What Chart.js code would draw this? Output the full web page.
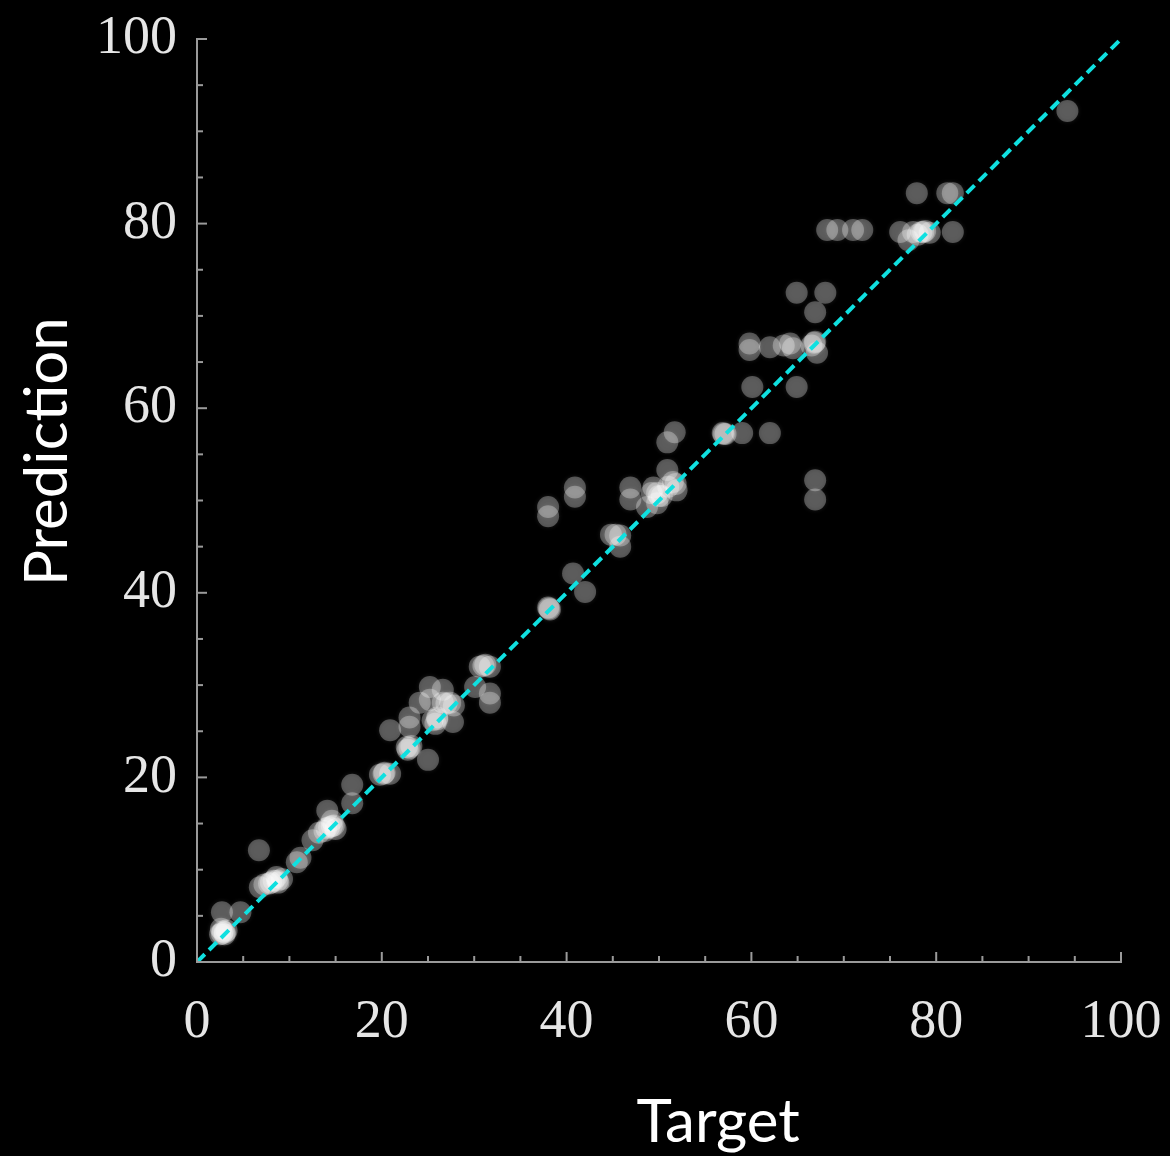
<!DOCTYPE html>
<html>
<head>
<meta charset="utf-8">
<script src="https://cdn.jsdelivr.net/npm/chart.js@4/dist/chart.umd.min.js"></script>
<style>
  html, body { margin: 0; padding: 0; background: #000; }
  #wrap { width: 1170px; height: 1156px; position: relative; }
</style>
</head>
<body>
<div id="wrap"><canvas id="c" width="1170" height="1156"></canvas></div>
<script>
// ---- data ----
const targetValues = [
  2.5, 2.8, 3.0, 2.6, 3.2, 3.0, 2.7,
  2.7, 4.7,
  6.8, 7.3, 7.8, 8.3, 8.8, 8.6, 9.2, 8.0, 8.7,
  6.7,
  10.8, 11.2,
  12.5, 13.2, 13.8, 14.3, 14.8, 15.0, 14.6, 14.0, 14.6,
  14.1,
  16.8, 16.8,
  19.8, 20.3, 20.9, 20.2,
  22.8, 23.2, 22.7, 23.0,
  25.0,
  20.9, 23.0, 23.0,
  25.2,
  25.5, 26.0, 25.8, 26.0,
  26.6, 27.4, 27.8, 27.0,
  24.1, 25.2, 26.6,
  27.7,
  30.6, 31.2, 31.7, 31.0,
  30.1, 31.7, 31.7,
  38.0, 38.2, 38.1,
  40.7, 42.0,
  38.0, 38.0,
  40.9, 40.9,
  44.8, 45.8, 45.8, 45.3,
  46.9, 46.9,
  48.7, 49.4, 49.8, 49.2, 50.0, 49.8, 50.3,
  51.5, 51.9, 51.0, 51.8,
  50.9, 50.9, 51.7,
  56.9, 57.2, 57.0,
  59.0, 62.0,
  60.1, 64.9,
  59.8, 59.8, 62.0,
  64.2, 64.5, 63.5,
  66.9, 67.1, 66.5, 66.8,
  64.9, 68.0, 66.9,
  66.9, 66.9,
  68.2, 69.3, 71.0, 72.0,
  76.1, 77.5, 78.6, 79.3, 77.0, 78.0, 78.4, 78.8,
  81.8,
  77.9, 81.2, 81.8,
  94.2
];
const predictionValues = [
  3.0, 3.3, 3.0, 3.6, 3.4, 3.2, 3.1,
  5.4, 5.4,
  8.1, 8.4, 8.5, 8.8, 8.6, 9.2, 9.0, 8.6, 8.8,
  12.1,
  10.8, 11.3,
  13.2, 14.0, 14.2, 14.6, 14.8, 14.4, 15.3, 14.5, 14.7,
  16.4,
  17.2, 19.2,
  20.3, 20.5, 20.4, 20.4,
  23.0, 23.4, 23.3, 23.2,
  21.9,
  25.1, 25.5, 26.5,
  29.8,
  26.2, 26.5, 25.8, 26.3,
  28.1, 28.1, 27.8, 28.0,
  28.1, 28.4, 29.5,
  26.0,
  32.0, 32.2, 32.0, 32.1,
  29.8, 29.1, 28.1,
  38.4, 38.2, 38.3,
  42.1, 40.1,
  48.3, 49.3,
  51.4, 50.4,
  46.3, 46.2, 45.0, 46.3,
  50.1, 51.4,
  49.3, 51.4, 49.7, 50.8, 50.5, 50.8, 50.5,
  52.0, 51.1, 51.5, 51.8,
  53.3, 56.3, 57.4,
  57.3, 57.2, 57.2,
  57.3, 57.3,
  62.3, 62.3,
  67.0, 66.3, 66.6,
  67.0, 66.5, 66.8,
  67.2, 66.0, 66.8, 67.1,
  72.5, 72.5, 70.4,
  52.2, 50.1,
  79.3, 79.3, 79.3, 79.3,
  79.1, 79.1, 79.1, 79.0, 78.2, 78.8, 79.1, 79.2,
  79.1,
  83.3, 83.3, 83.3,
  92.2
];
const identityLine = [0, 100];          // y = x reference line endpoints
const tickLabels = ['0', '20', '40', '60', '80', '100'];
const axisMin = 0, axisMax = 100, majorStep = 20, minorStep = 5;
const xTitle = 'Target';
const yTitle = 'Prediction';

const scatterPoints = targetValues.map((t, i) => ({ x: t, y: predictionValues[i] }));
const linePoints = identityLine.map(v => ({ x: v, y: v }));

const AXIS_COLOR = '#9a9a9a';
const TITLE_FONT = '60px Lato, "Open Sans", sans-serif';
const TICK_FAMILY = '"Liberation Serif", "DejaVu Serif", serif';

const bgPlugin = {
  id: 'bg',
  beforeDraw(chart) {
    const ctx = chart.ctx;
    ctx.save();
    ctx.fillStyle = '#000';
    ctx.fillRect(0, 0, chart.width, chart.height);
    ctx.restore();
  }
};

const softPointsPlugin = {
  id: 'softPoints',
  beforeDatasetDraw(chart, args) {
    if (args.index !== 1) return;
    const ctx = chart.ctx;
    ctx.save();
    ctx.shadowColor = 'rgba(255,255,255,0.35)';
    ctx.shadowBlur = 4;
  },
  afterDatasetDraw(chart, args) {
    if (args.index !== 1) return;
    chart.ctx.restore();
  }
};

const tickPlugin = {
  id: 'inwardTicks',
  afterDraw(chart) {
    const ctx = chart.ctx;
    const xs = chart.scales.x, ys = chart.scales.y;
    const x0 = xs.getPixelForValue(axisMin);
    const y0 = ys.getPixelForValue(axisMin);
    ctx.save();
    ctx.strokeStyle = AXIS_COLOR;
    ctx.lineWidth = 2;
    for (let v = axisMin; v <= axisMax; v += minorStep) {
      const len = (v % majorStep === 0) ? 10 : 6;
      const px = xs.getPixelForValue(v);
      ctx.beginPath(); ctx.moveTo(px, y0); ctx.lineTo(px, y0 - len); ctx.stroke();
      const py = ys.getPixelForValue(v);
      ctx.beginPath(); ctx.moveTo(x0, py); ctx.lineTo(x0 + len, py); ctx.stroke();
    }
    // axis titles
    ctx.fillStyle = '#ffffff';
    ctx.font = TITLE_FONT;
    ctx.textAlign = 'center';
    ctx.textBaseline = 'alphabetic';
    ctx.fillText(xTitle, xs.getPixelForValue(56.4), chart.height - 14);
    ctx.save();
    ctx.translate(67, ys.getPixelForValue(55.3));
    ctx.rotate(-Math.PI / 2);
    ctx.fillText(yTitle, 0, 0);
    ctx.restore();
    ctx.restore();
  }
};

new Chart(document.getElementById('c'), {
  data: {
    datasets: [
      {
        type: 'line',
        data: linePoints,
        borderColor: '#0fe0e0',
        borderWidth: 4,
        borderDash: [11, 6],
        pointRadius: 0,
        fill: false,
        order: 0
      },
      {
        type: 'scatter',
        data: scatterPoints,
        backgroundColor: 'rgba(255,255,255,0.29)',
        borderWidth: 0,
        pointRadius: 11,
        pointHoverRadius: 11,
        order: 1
      }
    ]
  },
  options: {
    responsive: false,
    animation: false,
    events: [],
    layout: { autoPadding: false, padding: { left: 0, top: 39, right: 49, bottom: 0 } },
    plugins: { legend: { display: false }, tooltip: { enabled: false } },
    scales: {
      x: {
        type: 'linear',
        min: axisMin, max: axisMax,
        afterFit(s) { s.height = 194; s.paddingLeft = 0; s.paddingRight = 0; },
        grid: { display: false },
        border: { display: true, color: AXIS_COLOR, width: 2 },
        afterBuildTicks(s) { s.ticks = tickLabels.map(t => ({ value: Number(t) })); },
        ticks: {
          padding: 20,
          color: '#e6e6e6',
          font: { family: TICK_FAMILY, size: 54 },
          maxRotation: 0,
          autoSkip: false,
          callback: (v, i) => tickLabels[i]
        }
      },
      y: {
        type: 'linear',
        min: axisMin, max: axisMax,
        afterFit(s) { s.width = 197; s.paddingTop = 0; s.paddingBottom = 0; },
        grid: { display: false },
        border: { display: true, color: AXIS_COLOR, width: 2 },
        afterBuildTicks(s) { s.ticks = tickLabels.map(t => ({ value: Number(t) })); },
        ticks: {
          padding: 12,
          color: '#e6e6e6',
          font: { family: TICK_FAMILY, size: 54 },
          autoSkip: false,
          callback: (v, i) => tickLabels[i]
        }
      }
    }
  },
  plugins: [bgPlugin, softPointsPlugin, tickPlugin]
});
</script>
</body>
</html>
